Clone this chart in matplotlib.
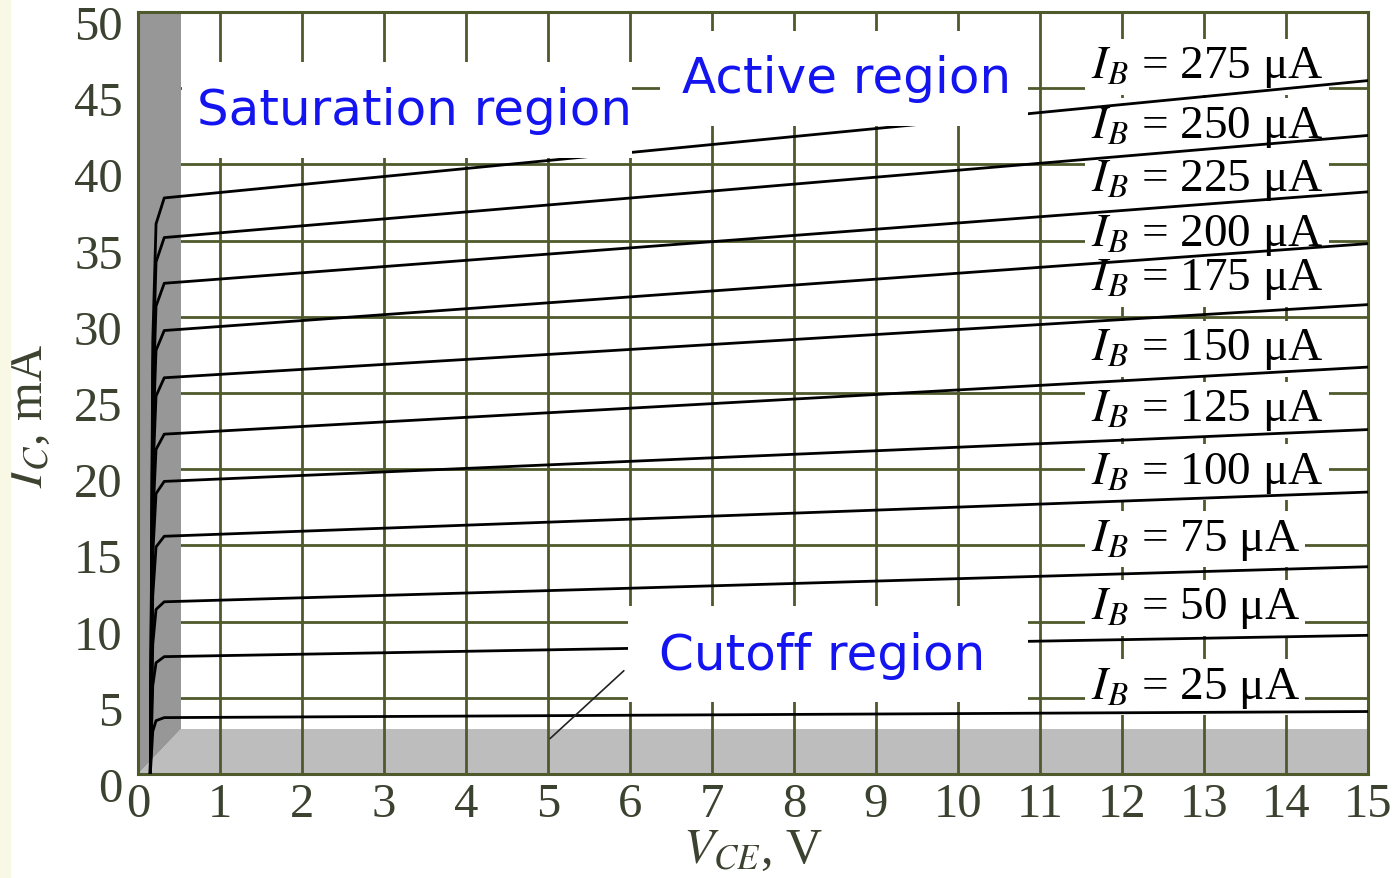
import numpy as np
import matplotlib.pyplot as plt
from matplotlib.patches import Polygon, Rectangle
from matplotlib.transforms import ScaledTranslation

# BJT common-emitter output characteristics
ib_uA = [25, 50, 75, 100, 125, 150, 175, 200, 225, 250, 275]
vce_pts = [0.15, 0.18, 0.22, 0.32, 15.0]   # V
ic_curves = [                               # mA at vce_pts
    [0, 2.8, 3.5, 3.7, 4.1],
    [0, 5.8, 7.3, 7.7, 9.1],
    [0, 8.5, 10.8, 11.3, 13.6],
    [0, 11.7, 14.9, 15.6, 18.5],
    [0, 14.4, 18.4, 19.2, 22.6],
    [0, 16.7, 21.3, 22.3, 26.7],
    [0, 19.5, 24.8, 26.0, 30.8],
    [0, 21.8, 27.8, 29.1, 34.8],
    [0, 24.2, 30.7, 32.2, 38.2],
    [0, 26.4, 33.6, 35.2, 41.9],
    [0, 28.4, 36.1, 37.8, 45.5],
]
sat_edge_v = 0.53      # saturation wall width, V
cut_edge_ma = 2.95     # cutoff floor height, mA
xticks = list(range(0, 16))
yticks = list(range(0, 51, 5))

# layout of the labels
label_x = 11.62
label_y = [5.7, 10.9, 15.4, 19.8, 23.9, 27.9, 32.5, 35.4, 39.0, 42.5, 46.4]
# region label boxes: (x0, x1, y0, y1) in data units, text anchor
regions = [
    ('Saturation region', (0.54, 6.02, 40.4, 46.7), (0.72, 43.6)),
    ('Active region', (6.37, 10.85, 42.5, 48.75), (6.64, 45.7)),
    ('Cutoff region', (5.98, 10.85, 4.7, 11.0), (6.35, 7.8)),
]

plt.rcParams['mathtext.fontset'] = 'stix'
serif = ['Liberation Serif', 'DejaVu Serif']
grid_col = '#4e5a2c'
tick_col = '#3c4230'
blue = '#1414f0'

fig = plt.figure(figsize=(13.96, 8.79), dpi=100)
fig.patch.set_facecolor('white')
fig.patches.append(Rectangle((0, 0), 10 / 1396, 1, transform=fig.transFigure,
                             color='#f8f8e4', zorder=0))
ax = fig.add_axes([138 / 1396, 104 / 879, 1230 / 1396, 762 / 879])
ax.set_xlim(0, 15)
ax.set_ylim(0, 50)
ax.set_xticks(xticks)
ax.set_yticks(yticks)
ax.set_xticklabels([str(t) for t in xticks], fontfamily=serif, fontsize=35, color=tick_col)
ax.set_yticklabels([str(t) for t in yticks], fontfamily=serif, fontsize=35, color=tick_col)
ax.tick_params(length=0, pad=6)
ax.tick_params(axis='y', pad=11)
# y labels sit a little below their grid lines in the original
shift = ScaledTranslation(0, -0.10, fig.dpi_scale_trans)
for lab in ax.get_yticklabels():
    lab.set_transform(lab.get_transform() + shift)
ax.set_axisbelow(True)
ax.grid(True, color=grid_col, linewidth=2)
for s in ax.spines.values():
    s.set_color(grid_col)
    s.set_linewidth(2.2)

# cutoff floor (light) and saturation wall (dark)
ax.add_patch(Polygon([(0, 0), (15, 0), (15, cut_edge_ma), (sat_edge_v, cut_edge_ma)],
                     closed=True, facecolor='#bdbdbd', edgecolor='none', zorder=0.3))
ax.add_patch(Polygon([(0, 0), (0, 50), (sat_edge_v, 50), (sat_edge_v, cut_edge_ma)],
                     closed=True, facecolor='#979797', edgecolor='none', zorder=1))

for ic in ic_curves:
    ax.plot(vce_pts, ic, color='black', linewidth=2, zorder=3)

# IB labels: white backing first, then all the texts on top of it
for ib, ly in zip(ib_uA, label_y):
    txt = r'$I_B$' + f' = {ib} μA'
    ax.text(label_x, ly, txt, fontfamily=serif, fontsize=34, color='white',
            va='center', ha='left', zorder=1.8,
            bbox=dict(facecolor='white', edgecolor='none', pad=4))
    ax.text(label_x, ly, txt, fontfamily=serif, fontsize=34, color='black',
            va='center', ha='left', zorder=2.1)

# region labels on white boxes
for name, (x0, x1, y0, y1), (tx, ty) in regions:
    ax.add_patch(Rectangle((x0, y0), x1 - x0, y1 - y0, facecolor='white',
                           edgecolor='none', zorder=4.5))
    ax.text(tx, ty, name, fontsize=36, color=blue, va='center', ha='left', zorder=5)

ax.annotate('', xy=(5.0, 2.2), xytext=(5.95, 6.9),
            arrowprops=dict(arrowstyle='-', color='#222222', linewidth=1.2),
            zorder=4)

ax.set_xlabel(r'$V_{CE}$, V', fontfamily=serif, fontsize=36, color=tick_col, labelpad=0)
ax.set_ylabel(r'$I_C$, mA', fontfamily=serif, fontsize=36, color=tick_col)
ax.yaxis.set_label_coords(-0.069, 0.471)

fig.savefig('out.png', dpi=100)
